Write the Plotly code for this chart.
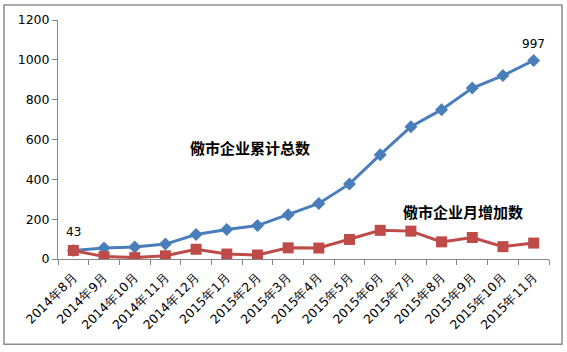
import plotly.graph_objects as go

categories = ["2014年8月", "2014年9月", "2014年10月", "2014年11月", "2014年12月",
              "2015年1月", "2015年2月", "2015年3月", "2015年4月", "2015年5月",
              "2015年6月", "2015年7月", "2015年8月", "2015年9月", "2015年10月", "2015年11月"]
total_values = [43, 55, 60, 75, 123, 148, 168, 222, 279, 377, 524, 664, 750, 858, 921, 997]
monthly_values = [43, 12, 7, 16, 49, 25, 20, 56, 55, 98, 144, 140, 86, 108, 62, 80]

W, H = 567, 352
L, R, T, B = 58, 18, 18, 93
pw, ph = W - L - R, H - T - B

fig = go.Figure()
fig.add_trace(go.Scatter(x=categories, y=total_values, mode="lines+markers",
                         line=dict(color="#4A7EBB", width=3),
                         marker=dict(symbol="diamond", size=10, color="#4A7EBB"),
                         name="儆市企业累计总数"))
fig.add_trace(go.Scatter(x=categories, y=monthly_values, mode="lines+markers",
                         line=dict(color="#BE4B48", width=3),
                         marker=dict(symbol="square", size=11, color="#BE4B48"),
                         name="儆市企业月增加数"))

num_font = dict(family="DejaVu Sans, Verdana, sans-serif", size=12, color="#000000")
tick_font = dict(family="DejaVu Sans, Verdana, sans-serif", size=12.5, color="#000000")
cjk_font = dict(family="Noto Sans CJK SC", size=15, color="#000000")

fig.add_annotation(x=categories[0], y=total_values[0], text=str(total_values[0]),
                   showarrow=False, yshift=18, font=num_font)
fig.add_annotation(x=categories[-1], y=total_values[-1], text=str(total_values[-1]),
                   showarrow=False, yshift=16, font=num_font)
fig.add_annotation(x=5.75, y=560, text="<b>儆市企业累计总数</b>", showarrow=False, font=cjk_font)
fig.add_annotation(x=12.7, y=240, text="<b>儆市企业月增加数</b>", showarrow=False, font=cjk_font)

# outer border
fig.add_shape(type="rect", xref="paper", yref="paper",
              x0=(4 - L) / pw, x1=(562 - L) / pw,
              y0=(H - B - 345) / ph, y1=(H - B - 3) / ph,
              line=dict(color="#8C8C8C", width=1.5), fillcolor="rgba(0,0,0,0)")

fig.update_layout(
    width=W, height=H, margin=dict(l=L, r=R, t=T, b=B),
    paper_bgcolor="white", plot_bgcolor="white", showlegend=False,
    xaxis=dict(type="category", tickangle=-45, tickfont=tick_font,
               showline=True, linecolor="#868686", linewidth=1,
               ticks="outside", tickson="boundaries", ticklen=5, tickcolor="#868686",
               ticklabelstandoff=5,
               showgrid=False, zeroline=False, range=[-0.5, 15.5]),
    yaxis=dict(range=[0, 1200], dtick=200, tickfont=tick_font,
               showline=True, linecolor="#868686", linewidth=1,
               ticks="outside", ticklen=5, tickcolor="#868686",
               showgrid=False, zeroline=False),
)

fig.write_html("out.html")
